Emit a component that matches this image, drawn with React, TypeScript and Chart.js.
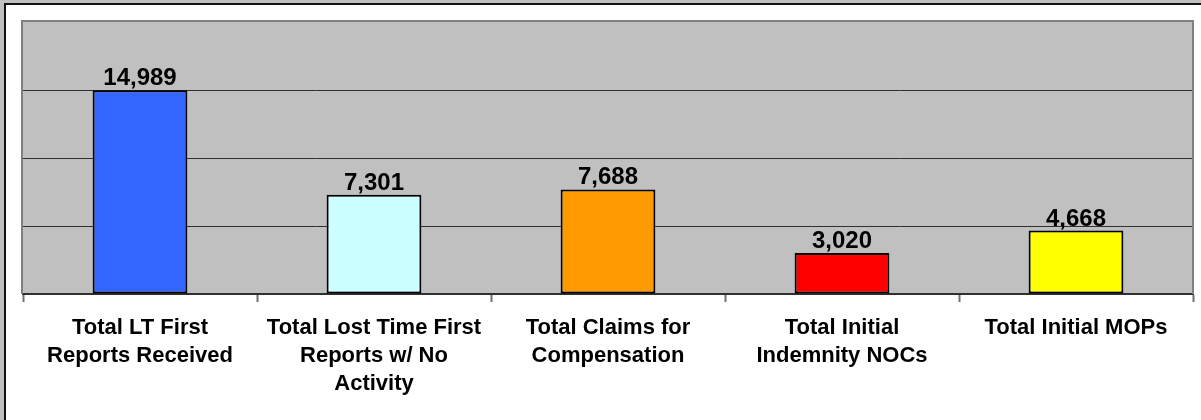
import React, { useEffect, useRef } from "react";
import { Chart, registerables } from "chart.js";

Chart.register(...registerables);

const categories: string[][] = [
  ["Total LT First", "Reports Received"],
  ["Total Lost Time First", "Reports w/ No", "Activity"],
  ["Total Claims for", "Compensation"],
  ["Total Initial", "Indemnity NOCs"],
  ["Total Initial MOPs"],
];
const values: number[] = [14989, 7301, 7688, 3020, 4668];
const barColors: string[] = ["#3366FF", "#CCFFFF", "#FF9900", "#FF0000", "#FFFF00"];
const yMin = 0;
const yMax = 20000;
const yStep = 5000;

const FONT = "'Liberation Sans', Arial, sans-serif";

const plotBg = {
  id: "plotBg",
  beforeDraw(chart: any) {
    const { ctx, chartArea } = chart;
    ctx.save();
    ctx.fillStyle = "#C0C0C0";
    ctx.fillRect(chartArea.left, chartArea.top, chartArea.right - chartArea.left, chartArea.bottom - chartArea.top);
    ctx.restore();
  },
  beforeDatasetsDraw(chart: any) {
    const { ctx, chartArea } = chart;
    ctx.save();
    ctx.strokeStyle = "#808080";
    ctx.lineWidth = 2;
    ctx.beginPath();
    ctx.moveTo(chartArea.left - 1, chartArea.bottom);
    ctx.lineTo(chartArea.left - 1, chartArea.top - 1);
    ctx.lineTo(chartArea.right, chartArea.top - 1);
    ctx.lineTo(chartArea.right, chartArea.bottom);
    ctx.stroke();
    ctx.restore();
  },
};

const valueLabels = {
  id: "valueLabels",
  afterDatasetsDraw(chart: any) {
    const { ctx } = chart;
    const meta = chart.getDatasetMeta(0);
    ctx.save();
    ctx.font = `bold 24px ${FONT}`;
    ctx.fillStyle = "#000";
    ctx.textAlign = "center";
    ctx.textBaseline = "alphabetic";
    meta.data.forEach((bar: any, i: number) => {
      const v = chart.data.datasets[0].data[i] as number;
      ctx.fillText(v.toLocaleString("en-US"), bar.x, bar.y - 5);
    });
    ctx.restore();
  },
};

export default function App() {
  const ref = useRef<HTMLCanvasElement | null>(null);
  useEffect(() => {
    if (!ref.current) return;
    const chart = new Chart(ref.current, {
      type: "bar",
      data: {
        labels: categories,
        datasets: [
          {
            data: values,
            backgroundColor: barColors,
            borderColor: "#000",
            borderWidth: 2,
            borderSkipped: false,
            barPercentage: 0.405,
            categoryPercentage: 1,
          },
        ],
      },
      options: {
        animation: false,
        responsive: false,
        devicePixelRatio: 1,
        layout: { padding: { left: 23, top: 22, right: 8, bottom: 0 } },
        plugins: { legend: { display: false }, tooltip: { enabled: false }, title: { display: false } },
        scales: {
          x: {
            grid: {
              display: true,
              drawOnChartArea: false,
              drawTicks: true,
              tickLength: 8,
              tickColor: "#707070",
              tickWidth: 2,
              offset: true,
            },
            border: { display: true, color: "#303030", width: 2 },
            ticks: {
              color: "#000",
              font: { family: FONT, size: 22, weight: "bold", lineHeight: 1.27 },
              padding: 12,
              maxRotation: 0,
              autoSkip: false,
            },
            afterFit(scale: any) {
              scale.height = 126;
            },
          },
          y: {
            min: yMin,
            max: yMax,
            ticks: { stepSize: yStep, display: false },
            grid: {
              drawTicks: false,
              lineWidth: 1,
              color: (c: any) =>
                c.tick && (c.tick.value === yMin || c.tick.value === yMax) ? "rgba(0,0,0,0)" : "#303030",
            },
            border: { display: false },
            afterFit(scale: any) {
              scale.width = 0;
            },
          },
        },
      },
      plugins: [plotBg, valueLabels],
    });
    return () => chart.destroy();
  }, []);

  return (
    <div style={{ position: "fixed", left: 0, top: 0, width: 1201, height: 420, background: "#C0C0C0", overflow: "hidden" }}>
      <div
        style={{
          position: "absolute",
          left: 4,
          top: 3,
          right: 0,
          bottom: 0,
          background: "#fff",
          borderLeft: "2px solid #111",
          borderTop: "2px solid #111",
        }}
      />
      <canvas ref={ref} width={1201} height={420} style={{ position: "absolute", left: 0, top: 0, width: 1201, height: 420 }} />
    </div>
  );
}
